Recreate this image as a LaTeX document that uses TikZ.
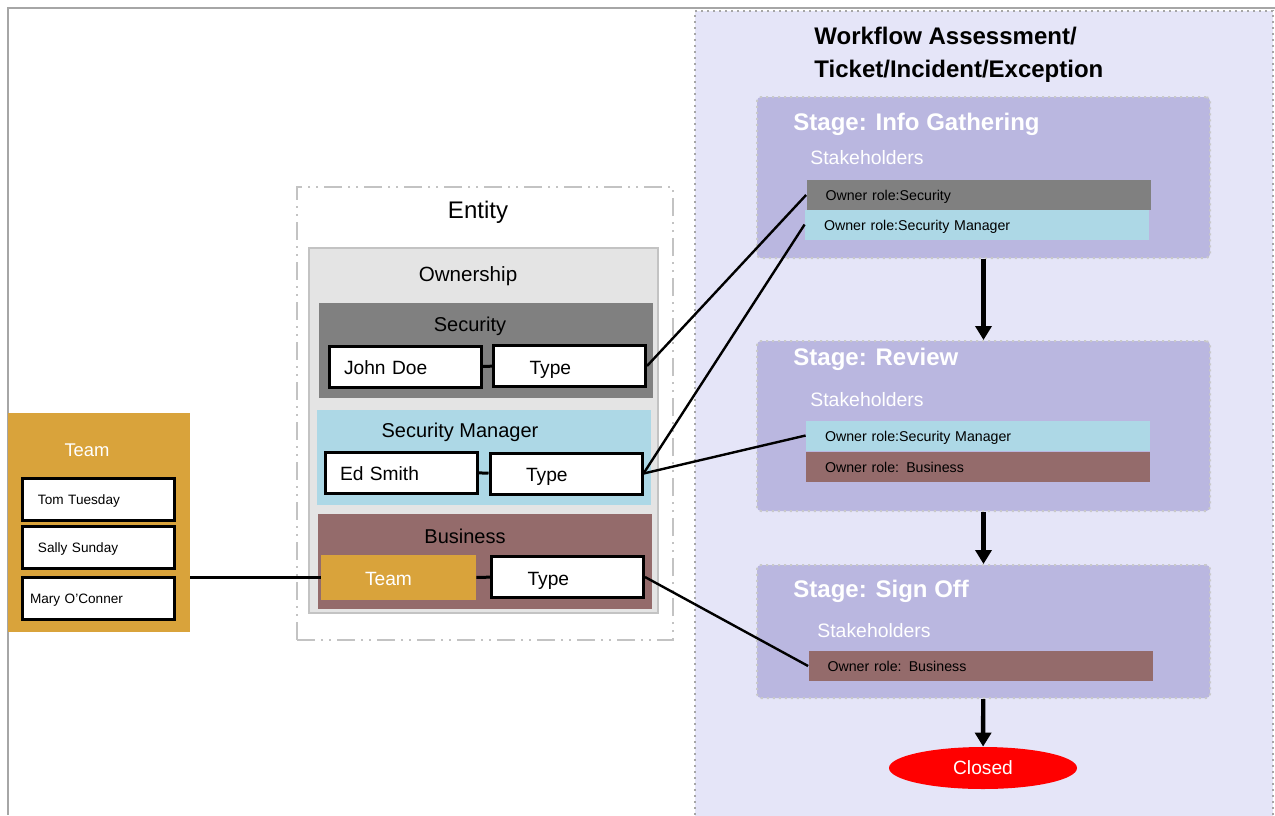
\documentclass[tikz,border=0pt]{standalone}
\usepackage{fontspec}
\setmainfont{Liberation Sans}
\usetikzlibrary{arrows.meta,shapes.geometric}
\definecolor{panelbg}{HTML}{E5E5F8}
\definecolor{stagebg}{HTML}{BAB7E0}
\definecolor{stageedge}{HTML}{C9C9C9}
\definecolor{secgray}{HTML}{808080}
\definecolor{smblue}{HTML}{ADD8E6}
\definecolor{busbrown}{HTML}{946B6B}
\definecolor{teamorange}{HTML}{D9A33B}
\definecolor{ownbg}{HTML}{E4E4E4}
\definecolor{ownedge}{HTML}{C3C3C3}
\definecolor{framegray}{HTML}{A6A6A6}

\begin{document}
\begin{tikzpicture}[x=0.5pt,y=-0.5pt,
    stagebox/.style={fill=stagebg,draw=stageedge,dotted,line width=1pt,rounded corners=2pt,
        inner sep=0pt,minimum width=226.5pt},
    stagetitle/.style={anchor=west,inner sep=0pt,text=white,font=\bfseries\fontsize{12}{14}\selectfont},
    stakeh/.style={anchor=west,inner sep=0pt,text=white,font=\fontsize{9.7}{12}\selectfont},
    rolebar/.style={minimum height=15pt,inner xsep=9.5pt,inner ysep=0pt,text width=153pt,
        text height=6pt,text depth=0.5pt,align=left,font=\fontsize{7.1}{8}\selectfont},
    grp/.style={inner sep=0pt,minimum width=167pt,minimum height=47.5pt},
    grplabel/.style={inner sep=0pt,font=\fontsize{10}{12}\selectfont},
    namebox/.style={draw,fill=white,line width=1.5pt,minimum height=20.5pt,inner xsep=7.5pt,
        text width=61pt,text height=8.5pt,text depth=0.5pt,align=left,font=\fontsize{9.6}{12}\selectfont},
    typebox/.style={namebox,inner xsep=18pt,text width=40pt},
    memberbox/.style={draw,fill=white,line width=1.5pt,minimum height=21pt,inner xsep=8pt,
        text width=60pt,text height=5.5pt,text depth=0.5pt,align=left,font=\fontsize{6.8}{8}\selectfont},
    joinline/.style={line width=1.5pt},
    link/.style={line width=1.2pt},
    flow/.style={line width=2.2pt,-{Triangle[width=8pt,length=7pt]}}]
    \useasboundingbox (0,0) rectangle (1275,815);
    \draw[framegray,line width=1pt] (7,8) -- (1275,8) (8,8) -- (8,815);

    \node (workflow) at (984,418) [fill=panelbg,draw=framegray,dotted,line width=1pt,
        minimum width=289pt,minimum height=407pt,inner sep=0pt] {};
    \node (wftitle) at (814,55) [anchor=west,inner sep=0pt,align=left,
        font=\bfseries\fontsize{12}{16.5}\selectfont] {Workflow Assessment/\\Ticket/Incident/Exception};

    \node (s1) at (983.5,177.5) [stagebox,minimum height=80.5pt] {};
    \node (s1title) at (793,124) [stagetitle] {Stage: Info Gathering};
    \node (s1stake) at (810,158) [stakeh] {Stakeholders};
    \node (s1sec) at (978.5,195) [rolebar,fill=secgray] {Owner role:Security};
    \node (s1sm) at (977,224.5) [rolebar,fill=smblue] {Owner role:Security Manager};

    \node (s2) at (983.5,426) [stagebox,minimum height=85pt] {};
    \node (s2title) at (793,359) [stagetitle] {Stage: Review};
    \node (s2stake) at (810,400) [stakeh] {Stakeholders};
    \node (s2sm) at (978,435.5) [rolebar,fill=smblue] {Owner role:Security Manager};
    \node (s2bus) at (978,466.5) [rolebar,fill=busbrown] {Owner role: Business};

    \node (s3) at (983.5,631.5) [stagebox,minimum height=66.5pt] {};
    \node (s3title) at (793,591) [stagetitle] {Stage: Sign Off};
    \node (s3stake) at (817,631) [stakeh] {Stakeholders};
    \node (s3bus) at (980.5,666) [rolebar,fill=busbrown] {Owner role: Business};

    \node (closed) at (983,768) [ellipse,fill=red,text=white,minimum width=94pt,minimum height=21pt,
        inner sep=0pt,font=\fontsize{9.6}{12}\selectfont] {Closed};

    \draw[flow] (s1) -- (s2);
    \draw[flow] (s2) -- (s3);
    \draw[flow] (s3) -- (closed);

    \node (entity) at (485,413.5) [draw=ownedge,dash pattern=on 9pt off 3pt on 1pt off 3pt on 1pt off 3pt,
        line width=1pt,minimum width=188pt,minimum height=226.5pt,inner sep=0pt] {};
    \node (entitylabel) at (478,212) [inner sep=0pt,font=\fontsize{12}{14}\selectfont] {Entity};
    \node (own) at (483.5,430.5) [fill=ownbg,draw=ownedge,line width=1pt,minimum width=174.5pt,
        minimum height=182.5pt,inner sep=0pt] {};
    \node (ownlabel) at (468,276) [grplabel,font=\fontsize{10.3}{12}\selectfont] {Ownership};

    \node (sec) at (486,350.5) [grp,fill=secgray] {};
    \node (seclabel) at (470,326) [grplabel] {Security};
    \node (jd) at (405,366.5) [namebox] {John Doe};
    \node (sectype) at (569.5,366) [typebox] {Type};
    \draw[joinline] (jd) -- (sectype);

    \node (sm) at (484,457.5) [grp,fill=smblue] {};
    \node (smlabel) at (460,432) [grplabel] {Security Manager};
    \node (es) at (401,472.5) [namebox] {Ed Smith};
    \node (smtype) at (566,473.5) [typebox] {Type};
    \draw[joinline] (es) -- (smtype);

    \node (bus) at (485,561) [grp,fill=busbrown] {};
    \node (buslabel) at (465,536) [grplabel] {Business};
    \node (bteam) at (398.5,577.5) [fill=teamorange,text=white,minimum width=77.5pt,minimum height=22.5pt,
        inner xsep=22pt,text width=33.5pt,text height=8.5pt,text depth=0.5pt,align=left,
        font=\fontsize{9.6}{12}\selectfont] {Team};
    \node (bustype) at (567.5,577) [typebox] {Type};
    \draw[joinline] (bteam) -- (bustype);

    \node (teampanel) at (99,522.5) [fill=teamorange,minimum width=91pt,minimum height=109.5pt,inner sep=0pt] {};
    \node (teamlabel) at (87,450) [inner sep=0pt,text=white,font=\fontsize{9.2}{11}\selectfont] {Team};
    \node (tom) at (98,499) [memberbox] {Tom Tuesday};
    \node (sally) at (98,547.5) [memberbox] {Sally Sunday};
    \node (mary) at (98,598) [memberbox,inner xsep=4pt,text width=68pt] {Mary O'Conner};

    \draw[link] (bteam.west) -- (bteam.west -| teampanel.east);
    \draw[link] (sectype.east) -- (s1sec.west);
    \draw[link] (smtype.east) -- (s1sm.west);
    \draw[link] (smtype.east) -- (s2sm.west);
    \draw[link] (bustype.east) -- (s3bus.west);
\end{tikzpicture}
\end{document}
